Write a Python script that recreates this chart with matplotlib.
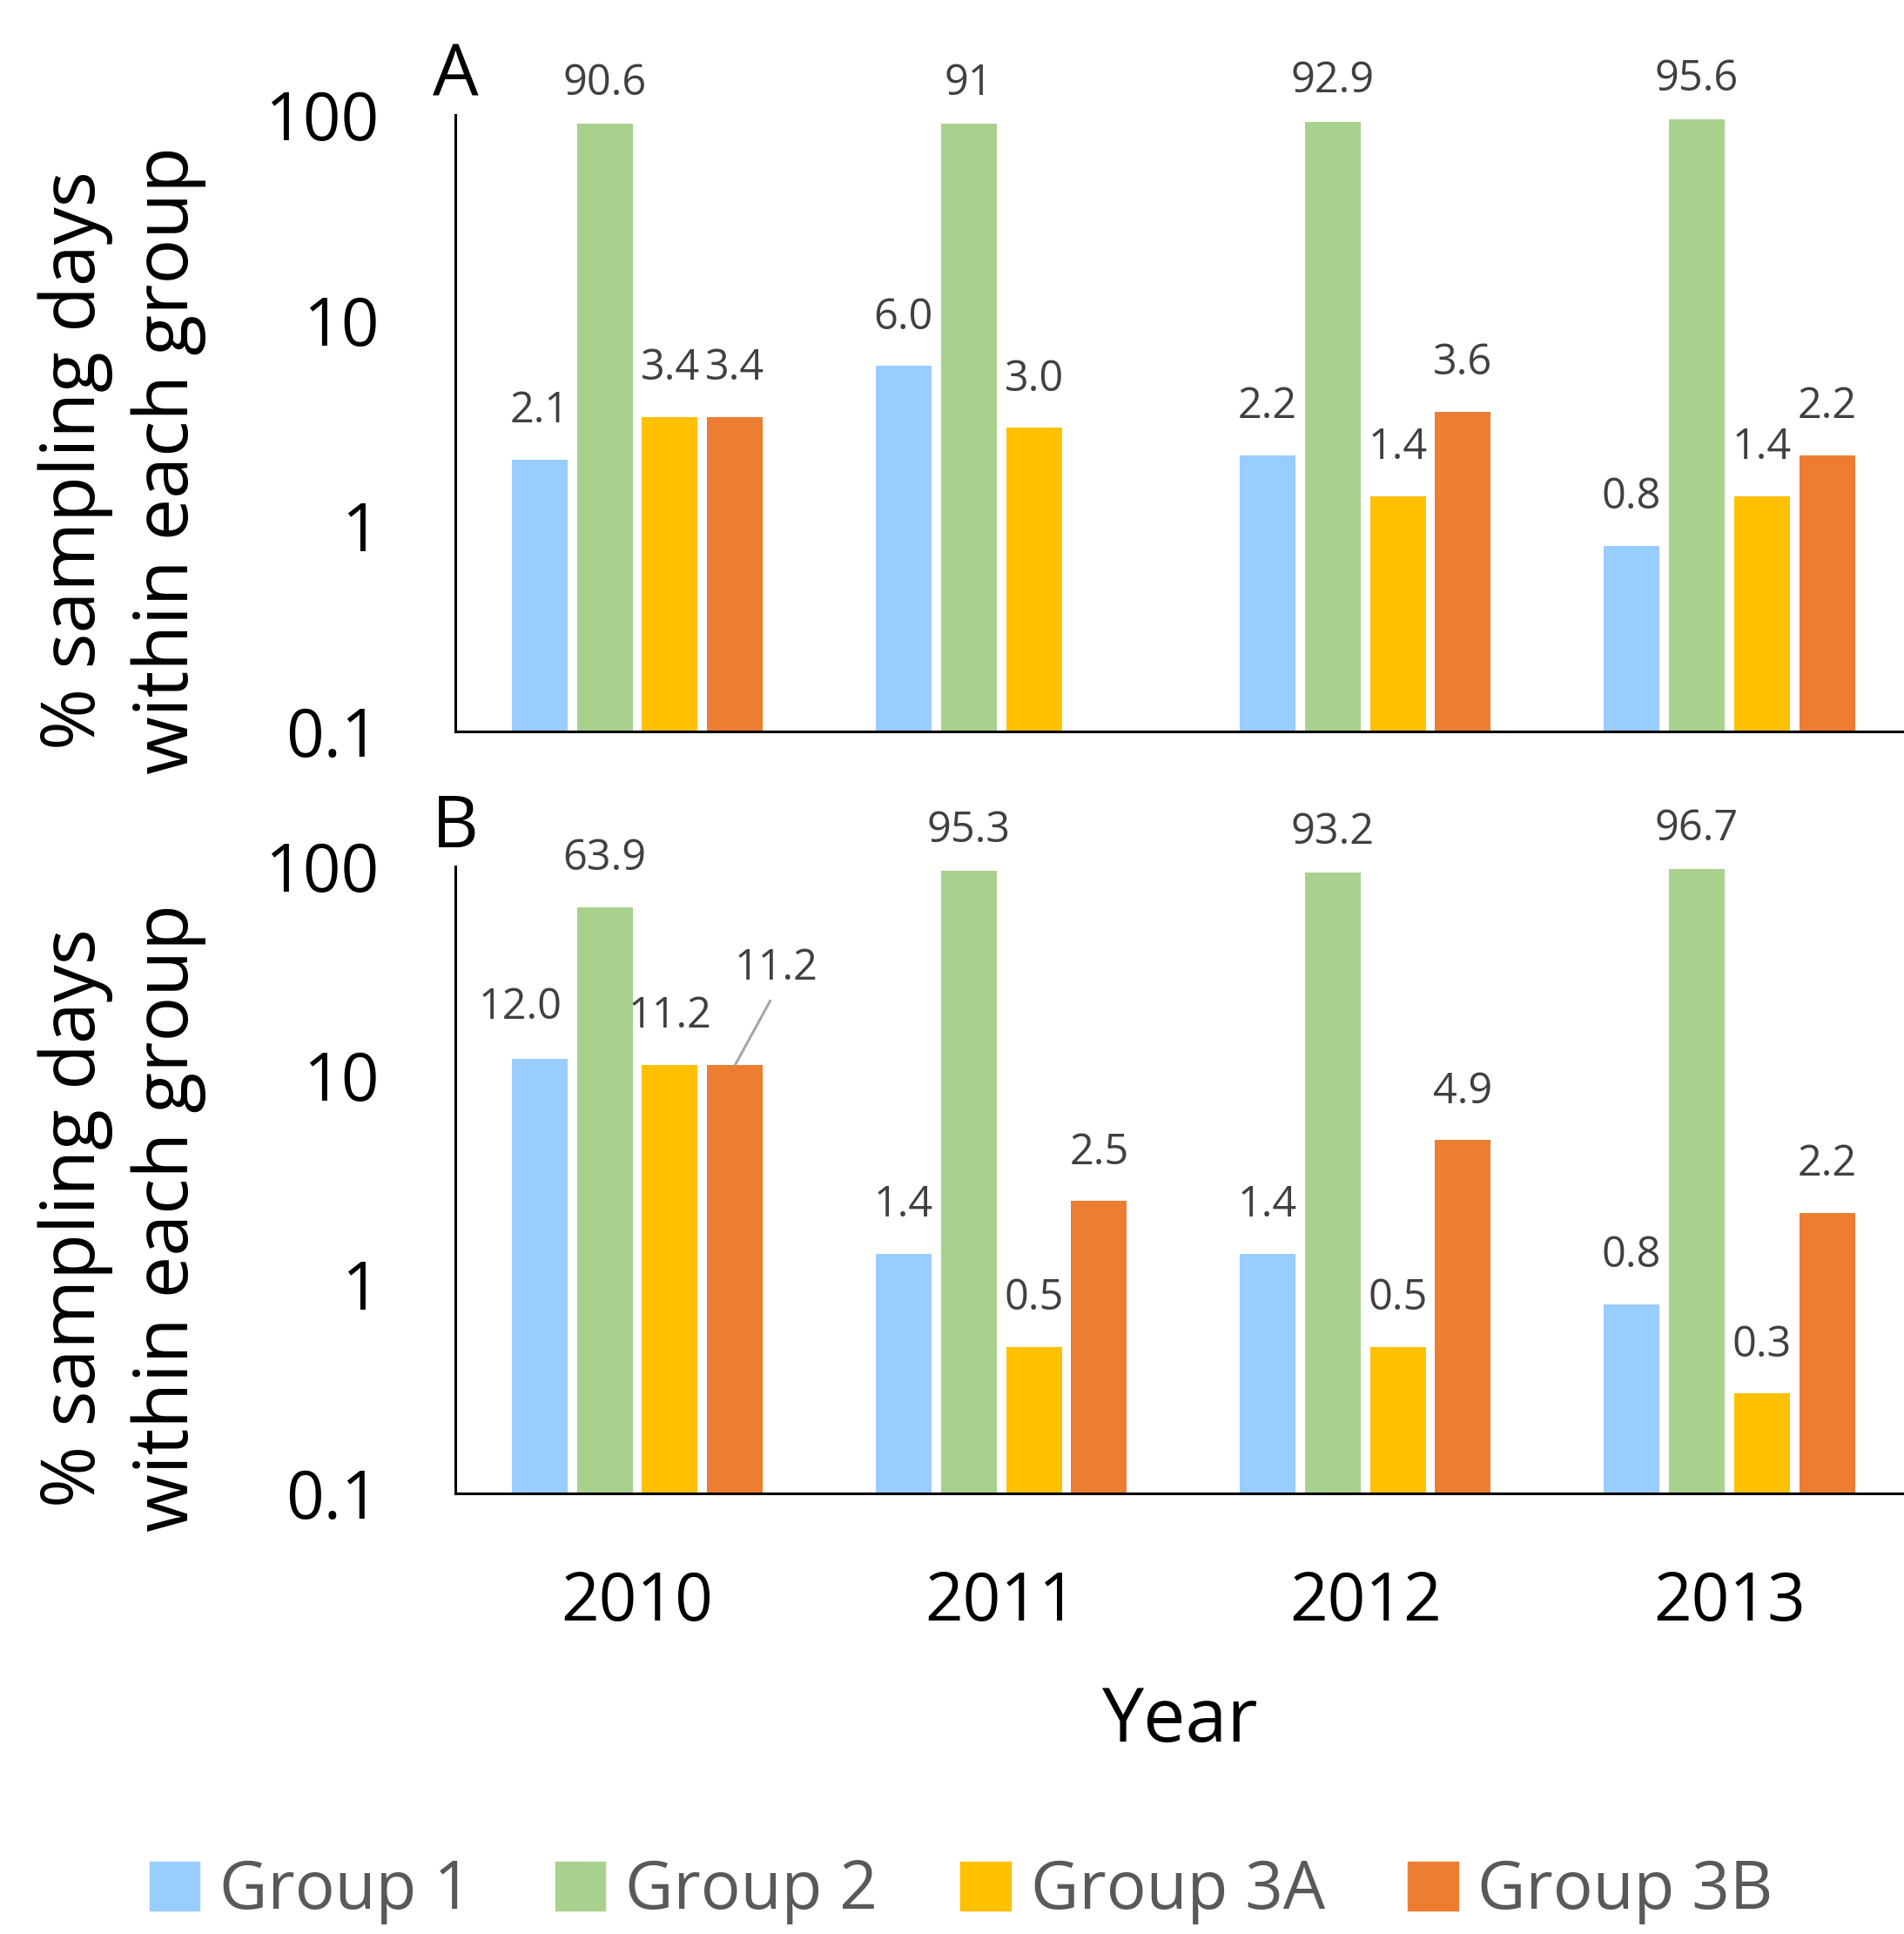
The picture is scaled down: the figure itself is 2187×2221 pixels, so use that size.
import matplotlib
matplotlib.use("Agg")
import matplotlib.pyplot as plt
from matplotlib.patches import Patch
import numpy as np

plt.rcParams['font.family'] = ['Open Sans', 'DejaVu Sans']

years = ['2010', '2011', '2012', '2013']
groups = ['Group 1', 'Group 2', 'Group 3A', 'Group 3B']
colors = ['#99CCFF', '#A9D18E', '#FFC000', '#ED7D31']

# panel A, one list per group, one value per year (nan = no bar)
a_group1 = [2.1, 6.0, 2.2, 0.8]
a_group2 = [90.6, 91, 92.9, 95.6]
a_group3a = [3.4, 3.0, 1.4, 1.4]
a_group3b = [3.4, np.nan, 3.6, 2.2]

# panel B
b_group1 = [12.0, 1.4, 1.4, 0.8]
b_group2 = [63.9, 95.3, 93.2, 96.7]
b_group3a = [11.2, 0.5, 0.5, 0.3]
b_group3b = [11.2, 2.5, 4.9, 2.2]

W, H = 2187, 2221
fig = plt.figure(figsize=(W / 100, H / 100), dpi=100)

def px_axes(left, top, right, bottom):
    return fig.add_axes([left / W, 1 - bottom / H, (right - left) / W, (bottom - top) / H])

axA = px_axes(523, 132, 2187, 840)
axB = px_axes(523, 995, 2187, 1715)

pitch = 0.179
width = 0.153
x = np.arange(len(years))

def draw_panel(ax, data, green_fmt, special=None):
    special = special or {}
    for i, vals in enumerate(data):
        xs = x + (i - 1.5) * pitch
        ax.bar(xs, vals, width=width, color=colors[i], label=groups[i], zorder=2)
        for j, v in enumerate(vals):
            if np.isnan(v):
                continue
            txt = (green_fmt if i == 1 else '{:.1f}').format(v)
            # labels near the top of the plot sit a bit closer to their bar
            default = (0, 33 if v > 80 else 40, False)
            dx, dy, leader = special.get((i, j), default)
            if leader:
                ax.annotate(txt, (xs[j], v), xytext=(dx, dy), textcoords='offset points',
                            ha='center', va='center', fontsize=35, color='#404040',
                            arrowprops=dict(arrowstyle='-', color='#A6A6A6', lw=2.2,
                                            relpos=(0.5, 0), shrinkA=8, shrinkB=0))
            else:
                ax.annotate(txt, (xs[j], v), xytext=(dx, dy), textcoords='offset points',
                            ha='center', va='center', fontsize=35, color='#404040')
    ax.set_yscale('log')
    ax.set_ylim(0.1, 100)
    ax.set_xlim(-0.5, 3.48)
    ax.set_yticks([0.1, 1, 10, 100])
    ax.set_yticklabels(['0.1', '1', '10', '100'])
    ax.minorticks_off()
    ax.tick_params(axis='y', length=0, pad=63, labelsize=55)
    ax.tick_params(axis='x', length=0, pad=63, labelsize=55)
    ax.set_xticks(x)
    for s in ['top', 'right']:
        ax.spines[s].set_visible(False)
    for s in ['left', 'bottom']:
        ax.spines[s].set_linewidth(2.2)
        ax.spines[s].set_color('black')
    ax.text(-0.23, 0.44, '% sampling days\nwithin each group', transform=ax.transAxes,
            rotation=90, ha='center', va='center', fontsize=62, linespacing=1.3)

draw_panel(axA, [a_group1, a_group2, a_group3a, a_group3b], '{:g}')
axA.set_xticklabels([])

draw_panel(axB, [b_group1, b_group2, b_group3a, b_group3b], '{:.1f}',
           special={(0, 0): (-16, 42, False), (3, 0): (34, 80, True)})
axB.set_xticklabels(years)
axB.set_xlabel('Year', fontsize=62, labelpad=40)

fig.text(523 / W, 1 - 89 / H, 'A', ha='center', va='center', fontsize=60)
fig.text(523 / W, 1 - 952 / H, 'B', ha='center', va='center', fontsize=60)

handles = [Patch(color=c) for c in colors]
leg = fig.legend(handles, groups, loc='center', bbox_to_anchor=(0.505, 1 - 2172 / H),
                 ncol=4, frameon=False, fontsize=55, handlelength=0.75, handleheight=0.75,
                 handletextpad=0.3, columnspacing=1.25, borderaxespad=0)
for t in leg.get_texts():
    t.set_color('#595959')

fig.savefig('out.png', dpi=100)
